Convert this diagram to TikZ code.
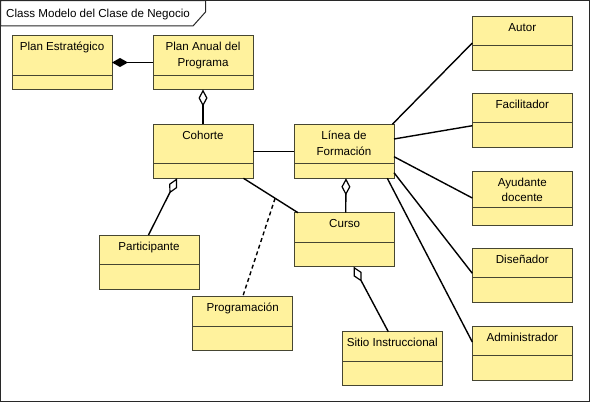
\documentclass[tikz,border=0pt]{standalone}
\usepackage{fontspec}
\setmainfont{Liberation Sans}
\usetikzlibrary{arrows.meta,calc}
\definecolor{clsfill}{RGB}{255,242,157}
\definecolor{clsdraw}{RGB}{70,70,50}
\definecolor{framecol}{RGB}{40,40,40}
\tikzset{
  cls/.style={draw=clsdraw, fill=clsfill, line width=0.9pt, minimum width=100pt, minimum height=54pt, inner sep=0pt, outer sep=0pt},
  divider/.style={draw=clsdraw, line width=0.9pt},
  clsname/.style={anchor=north, inner sep=0pt, align=center, font=\fontsize{11.6}{15.5}\selectfont},
  conn/.style={line width=1.4pt, black},
  agg/.style={conn, {Diamond[fill=white, length=17pt, width=9pt, line width=1.2pt]}-},
  compo/.style={conn, {Diamond[length=16pt, width=9pt]}-},
  dep/.style={conn, dash pattern=on 4pt off 3pt},
  framebox/.style={draw=framecol, line width=1.2pt},
  titletext/.style={anchor=base west, inner sep=0pt, font=\fontsize{11.6}{14}\selectfont},
}
\newcommand\umlcls[5]{%
  \node[cls] (#1) at (#2+50,#3+27) {};
  \draw[divider] ($(#1.north west)+(0,#4)$) -- ($(#1.north east)+(0,#4)$);
  \node[clsname] (#1-t) at ($(#1.north)+(0,4)$) {\rule{0pt}{11pt}#5};
}
\begin{document}
\begin{tikzpicture}[x=1pt, y=-1pt]
\useasboundingbox (0,0) rectangle (591,404);
\fill[white] (0,0) rectangle (591,404);
\draw[framebox] (0.6,0.6) rectangle (589.4,401.6);
\draw[framebox, line width=1pt, fill=white] (0.6,0.6) -- (205.5,0.6) -- (205.5,12) -- (193,26) -- (0.6,26) -- cycle;
\node[titletext] (title) at (6,17.5) {Class Modelo del Clase de Negocio};

\umlcls{pe}{12}{35.5}{39.5}{Plan Estratégico}
\umlcls{pa}{153}{35.5}{39.5}{Plan Anual del\\Programa}
\umlcls{co}{153}{124.3}{39}{Cohorte}
\umlcls{lf}{294}{124.3}{39}{Línea de\\Formación}
\umlcls{cu}{294.7}{212.7}{29.6}{Curso}
\umlcls{pt}{99}{235}{29}{Participante}
\umlcls{pg}{192.7}{296.7}{29.6}{Programación}
\umlcls{si}{342.3}{331.7}{29.6}{Sitio Instruccional}
\umlcls{au}{472.3}{16}{29}{Autor}
\umlcls{fa}{472.3}{93.3}{29}{Facilitador}
\umlcls{ay}{472.3}{171}{36.3}{Ayudante\\docente}
\umlcls{di}{472.3}{248.3}{29}{Diseñador}
\umlcls{ad}{472.3}{326}{29.3}{Administrador}

\draw[compo] (pe) -- (pa);
\draw[agg] (pa) -- (co);
\draw[conn] (co) -- (lf);
\draw[agg] ([xshift=2pt]lf.south) -- ([xshift=1pt]cu.north);
\draw[agg] ([xshift=-26pt]co.south) -- ([xshift=-0.5pt]pt.north);
\draw[conn] ([xshift=40.5pt]co.south) -- coordinate[pos=0.58] (assoc) ([xshift=3.3pt]cu.north west);
\draw[dep] (assoc) -- (pg.north);
\draw[agg] ([xshift=9pt]cu.south) -- ([xshift=-4pt]si.north);
\draw[conn] ([xshift=-1.7pt]lf.north east) -- (au.west);
\draw[conn] ([yshift=12.3pt]lf.east) -- ([yshift=-5.4pt]fa.west);
\draw[conn] ([yshift=-5.4pt]lf.east) -- (ay.west);
\draw[conn] ([yshift=-21.4pt]lf.east) -- ([yshift=2pt]di.west);
\draw[conn] ([xshift=-6.7pt]lf.south east) -- ([yshift=11pt]ad.west);
\end{tikzpicture}
\end{document}
